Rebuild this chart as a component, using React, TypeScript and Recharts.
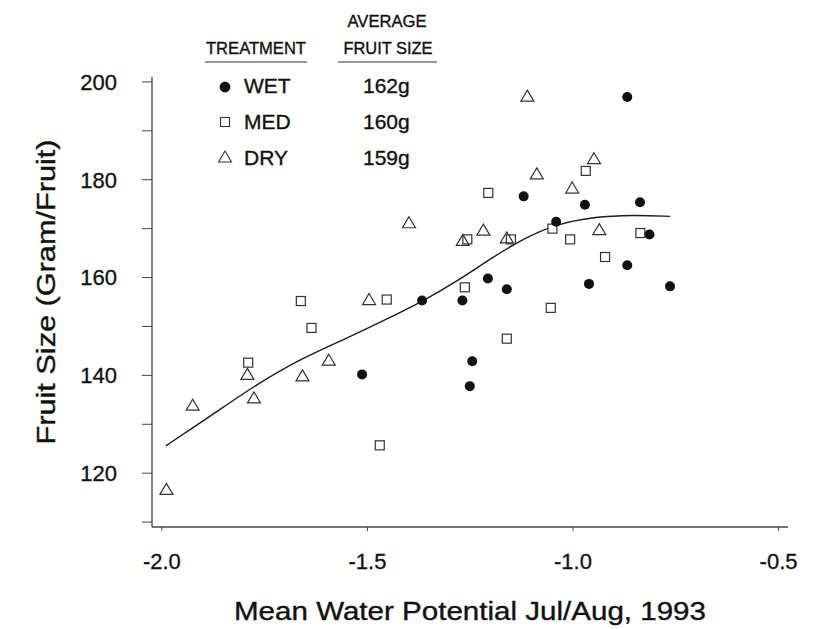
import React from 'react';
import { ComposedChart, Scatter, Line, XAxis, YAxis, Customized } from 'recharts';

const wetX = [-0.868, -1.120, -0.971, -0.837, -1.041, -0.814, -0.868, -1.207, -0.961, -0.764, -1.161, -1.367, -1.269, -1.245, -1.251, -1.513];
const wetY = [196.9, 176.6, 174.9, 175.4, 171.4, 168.8, 162.5, 159.8, 158.7, 158.2, 157.6, 155.3, 155.3, 142.9, 137.8, 140.2];

const medX = [-0.969, -1.206, -1.050, -0.836, -1.257, -1.151, -1.007, -0.922, -1.263, -1.054, -1.161, -1.453, -1.662, -1.636, -1.790, -1.470];
const medY = [181.8, 177.3, 170.0, 169.1, 167.8, 167.8, 167.8, 164.2, 158.0, 153.8, 147.5, 155.5, 155.2, 149.7, 142.6, 125.7];

const dryX = [-1.111, -0.949, -1.088, -1.002, -1.399, -0.936, -1.218, -1.268, -1.161, -1.496, -1.792, -1.658, -1.594, -1.925, -1.776, -1.989];
const dryY = [197.1, 184.3, 181.2, 178.3, 171.2, 169.8, 169.7, 167.6, 168.1, 155.5, 140.2, 139.9, 143.1, 133.9, 135.4, 116.7];

const fitX = [-1.99, -1.925, -1.85, -1.776, -1.658, -1.55, -1.461, -1.366, -1.275, -1.2, -1.12, -1.041, -0.95, -0.853, -0.764];
const fitY = [125.6, 129.3, 133.5, 137.8, 143.6, 147.6, 151.2, 155.1, 159.6, 163.9, 168.0, 170.9, 172.4, 172.8, 172.5];

const xTicks = [-2.0, -1.5, -1.0, -0.5];
const yTicks = [110, 120, 130, 140, 150, 160, 170, 180, 190, 200];
const yLabeled = [120, 140, 160, 180, 200];

const treatments = ['WET', 'MED', 'DRY'];
const averages = ['162g', '160g', '159g'];

const zip = (xs: number[], ys: number[]) => xs.map((x, i) => ({ x, y: ys[i] }));
const wet = zip(wetX, wetY);
const med = zip(medX, medY);
const dry = zip(dryX, dryY);
const fit = zip(fitX, fitY);

const FONT = '"Liberation Sans", Arial, Helvetica, sans-serif';
const INK = '#111';

const CircleShape = (p: any) => <circle cx={p.cx} cy={p.cy} r={5} fill={INK} />;
const SquareShape = (p: any) => (
  <rect x={p.cx - 4.5} y={p.cy - 4.5} width={9} height={9} fill="#fff" stroke="#333" strokeWidth={1.2} />
);
const TriShape = (p: any) => (
  <path d={`M${p.cx},${p.cy - 6} L${p.cx + 6.5},${p.cy + 5} L${p.cx - 6.5},${p.cy + 5} Z`} fill="none" stroke="#333" strokeWidth={1.2} />
);

const Overlay = () => {
  const rowY = [93, 129, 165];
  const symY = [87, 122, 157];
  return (
    <g fontFamily={FONT} fill={INK} stroke={INK} strokeWidth={0.35}>
      <text x={387} y={27} fontSize={16} textAnchor="middle" textLength={79} lengthAdjust="spacingAndGlyphs">AVERAGE</text>
      <text x={256} y={54} fontSize={16} textAnchor="middle" textLength={100} lengthAdjust="spacingAndGlyphs">TREATMENT</text>
      <text x={388} y={54} fontSize={16} textAnchor="middle" textLength={89} lengthAdjust="spacingAndGlyphs">FRUIT SIZE</text>
      <line x1={205} x2={307} y1={62} y2={62} stroke="#333" strokeWidth={1.2} />
      <line x1={338} x2={437} y1={62} y2={62} stroke="#333" strokeWidth={1.2} />
      <circle cx={225} cy={symY[0]} r={5.2} fill={INK} />
      <rect x={220.5} y={symY[1] - 4.5} width={9} height={9} fill="#fff" stroke="#333" strokeWidth={1.1} />
      <path d={`M225,${symY[2] - 6} L231.5,${symY[2] + 5} L218.5,${symY[2] + 5} Z`} fill="none" stroke="#333" strokeWidth={1.1} />
      {treatments.map((t, i) => (
        <text key={t} x={244} y={rowY[i]} fontSize={21}>{t}</text>
      ))}
      {averages.map((a, i) => (
        <text key={a} x={363} y={rowY[i]} fontSize={21}>{a}</text>
      ))}
      <text x={470} y={620} fontSize={25} textAnchor="middle" textLength={472} lengthAdjust="spacingAndGlyphs">
        Mean Water Potential Jul/Aug, 1993
      </text>
      <text x={0} y={0} fontSize={25} textAnchor="middle" transform="translate(55,292) rotate(-90)" textLength={305} lengthAdjust="spacingAndGlyphs">
        Fruit Size (Gram/Fruit)
      </text>
    </g>
  );
};

export default function App() {
  return (
    <div style={{ position: 'absolute', left: 0, top: 0, background: '#fff' }}>
      <ComposedChart width={815} height={629} margin={{ top: 77, right: 27, bottom: 42, left: 92 }}>
        <XAxis
          type="number"
          dataKey="x"
          domain={[-2.024, -0.477]}
          ticks={xTicks}
          allowDataOverflow
          tickFormatter={(v: number) => v.toFixed(1)}
          tickSize={4}
          tickMargin={22}
          height={60}
          stroke="#444"
          axisLine={{ stroke: '#444', strokeWidth: 1.3 }}
          tick={{ fill: INK, stroke: INK, strokeWidth: 0.3, fontSize: 22, fontFamily: FONT }}
        />
        <YAxis
          type="number"
          dataKey="y"
          domain={[109, 201]}
          ticks={yTicks}
          allowDataOverflow
          interval={0}
          tickFormatter={(v: number) => (yLabeled.includes(v) ? String(v) : '')}
          tickSize={10}
          tickMargin={25}
          width={60}
          stroke="#444"
          axisLine={{ stroke: '#444', strokeWidth: 1.3 }}
          tick={{ fill: INK, stroke: INK, strokeWidth: 0.3, fontSize: 22, fontFamily: FONT }}
        />
        <Line data={fit} dataKey="y" type="basis" dot={false} stroke="#1a1a1a" strokeWidth={1.4} isAnimationActive={false} />
        <Scatter data={med} dataKey="y" shape={SquareShape} isAnimationActive={false} />
        <Scatter data={dry} dataKey="y" shape={TriShape} isAnimationActive={false} />
        <Scatter data={wet} dataKey="y" shape={CircleShape} isAnimationActive={false} />
        <Customized component={Overlay} />
      </ComposedChart>
    </div>
  );
}
